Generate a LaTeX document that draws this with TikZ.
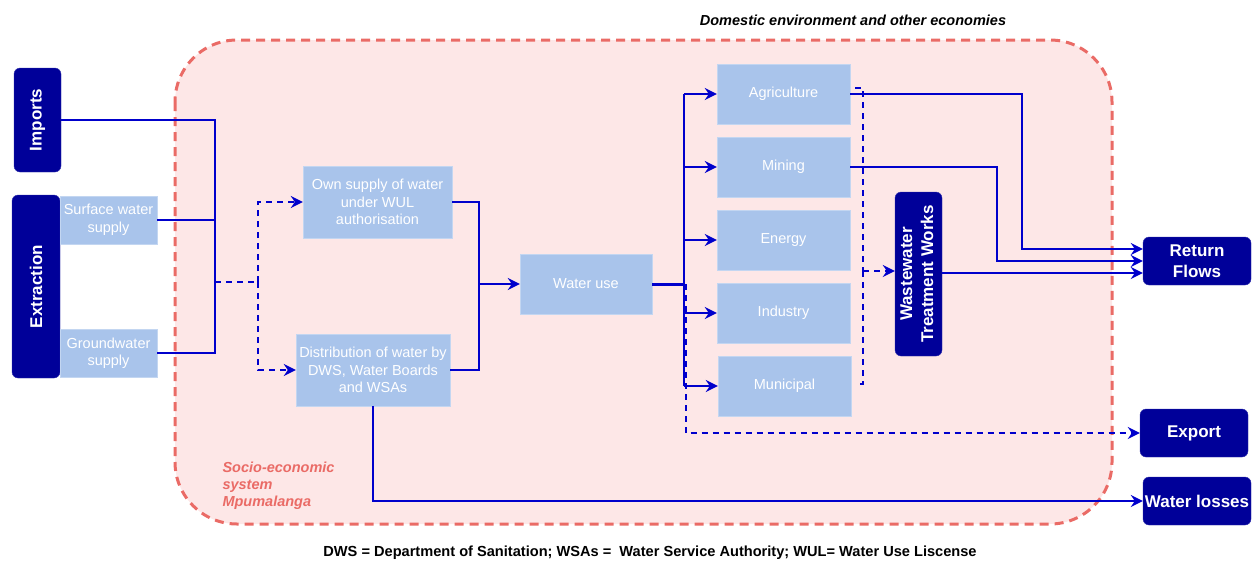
\documentclass[tikz,border=0pt]{standalone}
\usepackage{fontspec}
\setmainfont{Liberation Sans}
\usetikzlibrary{arrows.meta}
\definecolor{navy}{HTML}{000099}
\definecolor{paleblue}{HTML}{A9C4EB}
\definecolor{flow}{HTML}{0000CC}
\definecolor{pinkfill}{HTML}{FDE7E7}
\definecolor{redline}{HTML}{EA6B66}
\begin{document}
\begin{tikzpicture}[x=1pt,y=-1pt,
  sector/.style={fill=paleblue, draw=paleblue!70!white, text=white, inner sep=0pt,
    align=center, font=\fontsize{14.5}{17.5}\selectfont},
  darkbox/.style={fill=navy, draw=navy!80!white, rounded corners=6pt, text=white,
    inner sep=0pt, align=center, font=\fontsize{17}{21}\selectfont\bfseries},
  flowline/.style={draw=flow, line width=2pt},
  flowarrow/.style={flowline, -{Stealth[length=12pt,width=12pt,inset=4pt]}},
  dashflow/.style={flowline, dash pattern=on 6pt off 5pt},
  dasharrow/.style={dashflow, -{Stealth[length=12pt,width=12pt,inset=4pt]}},
  note/.style={font=\fontsize{14.5}{17}\selectfont\bfseries\itshape}
]
\useasboundingbox (0,0) rectangle (1255,563);

% socio-economic system boundary
\draw[fill=pinkfill, draw=redline, line width=3pt, dash pattern=on 9pt off 6pt,
  rounded corners=62pt] (175,40) rectangle (1112,524);

\node[note, anchor=center] (title) at (853,20) {Domestic environment and other economies};
\node[note, text=redline, align=left, anchor=north west] (sys) at (219,458)
  {Socio-economic\\system\\Mpumalanga};
\node[font=\fontsize{14.6}{17}\selectfont\bfseries, anchor=center] (legend) at (650,553)
  {DWS = Department of Sanitation; WSAs =\ \ Water Service Authority; WUL= Water Use Liscense};

% sources
\node[darkbox, minimum width=47pt, minimum height=104pt] (imports) at (37.5,120)
  {\rotatebox{90}{Imports}};
\node[darkbox, minimum width=48pt, minimum height=183pt] (extraction) at (36,286.5)
  {\rotatebox{90}{Extraction}};
\node[sector, minimum width=97pt, minimum height=48pt] (surface) at (108.5,220)
  {Surface water\\supply};
\node[sector, minimum width=97pt, minimum height=48pt] (ground) at (108.5,353)
  {Groundwater\\supply};

% supply routes
\node[sector, minimum width=149pt, minimum height=72pt] (own) at (377.5,202)
  {Own supply of water\\under WUL\\authorisation};
\node[sector, minimum width=154pt, minimum height=72pt] (dist) at (373,370)
  {Distribution of water by\\DWS, Water Boards\\and WSAs};
\node[sector, minimum width=132pt, minimum height=60pt] (use) at (586,284) {Water use};

% using sectors
\node[sector, minimum width=133pt, minimum height=60pt] (agri) at (783.5,94) {Agriculture};
\node[sector, minimum width=133pt, minimum height=60pt] (mining) at (783.5,167) {Mining};
\node[sector, minimum width=133pt, minimum height=60pt] (energy) at (783.5,240) {Energy};
\node[sector, minimum width=133pt, minimum height=60pt] (industry) at (783.5,313) {Industry};
\node[sector, minimum width=133pt, minimum height=60pt] (municipal) at (784.5,386) {Municipal};

\node[darkbox, minimum width=47pt, minimum height=164pt] (wwtw) at (918.5,274)
  {\rotatebox{90}{\begin{tabular}{@{}c@{}}Wastewater\\Treatment Works\end{tabular}}};

% sinks
\node[darkbox, minimum width=108pt, minimum height=48pt] (ret) at (1197,261) {Return\\Flows};
\node[darkbox, minimum width=108pt, minimum height=48pt] (export) at (1194,433) {Export};
\node[darkbox, minimum width=108pt, minimum height=48pt] (losses) at (1197,501) {Water losses};

% junction points
\coordinate (jsrc) at (215,282);
\coordinate (jsplit) at (258,282);
\coordinate (jmerge) at (479,284);
\coordinate (juse) at (684,284);
\coordinate (jagri) at (1022,249);
\coordinate (jmine) at (997,261);
\coordinate (jwaste) at (863,271);

% sources collected
\draw[flowline] (imports.east |- 0,120) -| (ground.east -| jsrc) -- (ground.east);
\draw[flowline] (surface.east) -- (surface.east -| jsrc);
\draw[dashflow] (jsrc) -- (jsplit);
\draw[dasharrow] (jsplit) |- (own.west);
\draw[dasharrow] (jsplit) |- (dist.west);

% supply routes into water use
\draw[flowline] (own.east) -| (jmerge);
\draw[flowline] (dist.east) -| (jmerge);
\draw[flowarrow] (jmerge) -- (use.west);

% water use to sectors
\draw[flow, line width=3pt] (use.east) -- (juse);
\draw[flowline] (juse |- agri.west) -- (juse |- municipal.west);
\foreach \s in {agri, mining, energy, industry, municipal}
  \draw[flowarrow] (juse |- \s.west) -- (\s.west);
\draw[dasharrow] ([xshift=1.5pt]juse) |- (export.west);

% return flows
\draw[flowarrow] (agri.east) -| (jagri) -- (jagri -| ret.west);
\draw[flowarrow] (mining.east) -| (jmine) -- (jmine -| ret.west);
\draw[flowarrow] (wwtw.east |- 0,273) -- (ret.west |- 0,273);

% wastewater collection
\draw[dashflow] ([xshift=5pt,yshift=6pt]agri.east) -| (jwaste)
  (jwaste) |- ([xshift=4pt,yshift=2pt]municipal.east);
\draw[dasharrow] (jwaste) -- (jwaste -| wwtw.west);

% losses
\draw[flowarrow] (dist.south) |- (losses.west);
\end{tikzpicture}
\end{document}
